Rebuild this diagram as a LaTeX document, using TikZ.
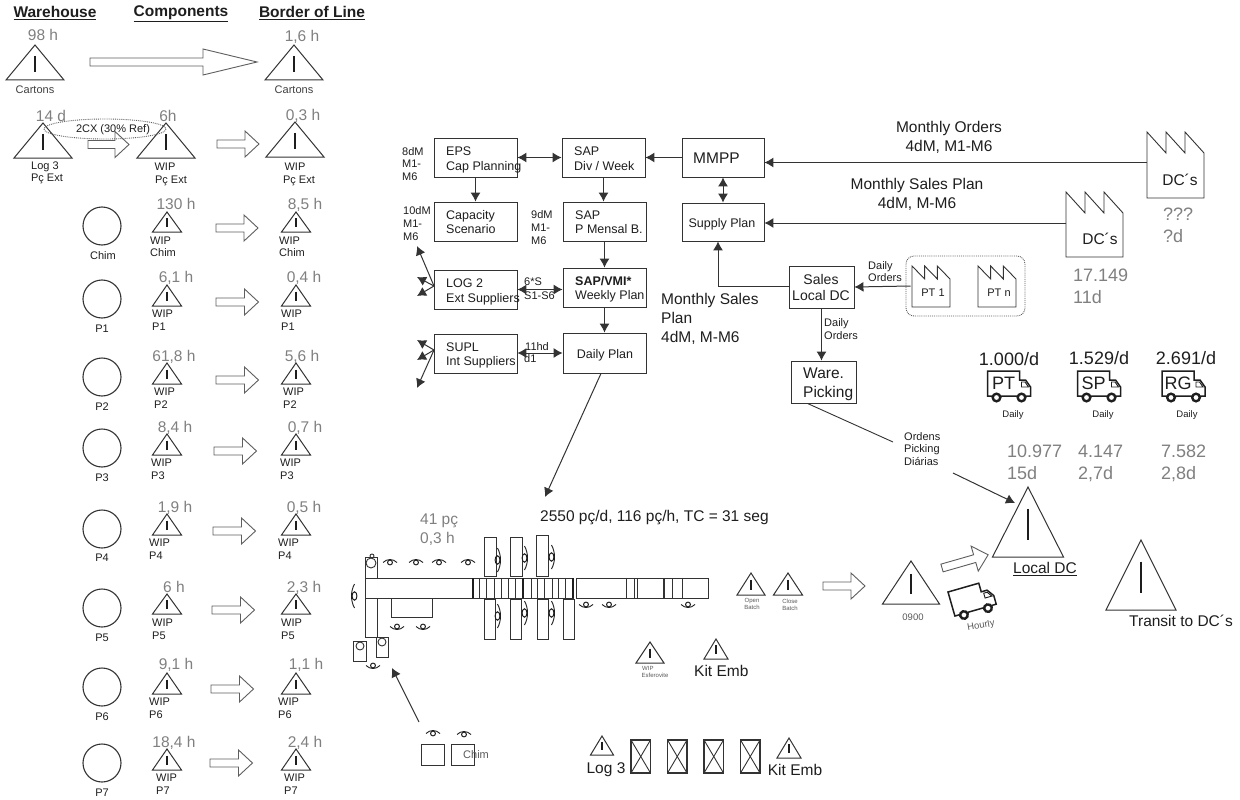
\documentclass[tikz,border=0pt]{standalone}
\usepackage{fontspec}
\setmainfont{Liberation Sans}
\usetikzlibrary{arrows.meta,calc}
\definecolor{txt}{HTML}{1E1E1E}
\definecolor{gtx}{HTML}{808080}
\definecolor{ln}{HTML}{333333}
\definecolor{blk}{HTML}{5E5E5E}
\tikzset{
  line/.style={line width=0.9pt,draw=ln},
  boxn/.style={draw=ln,line width=0.9pt,inner sep=0pt},
  arr/.style={line width=1pt,draw=ln,-{Latex[length=9pt,width=10pt]}},
  dbl/.style={line width=1pt,draw=ln,{Latex[length=9pt,width=10pt]}-{Latex[length=9pt,width=10pt]}},
  blockarr/.style={draw=blk,line width=0.9pt,fill=white},
  trishape/.style={draw=ln,line width=1pt},
  inmark/.style={draw=txt,line width=1.6pt},
  thin line/.style={draw=ln,line width=0.9pt},
}
\newcount\tn
\newcommand{\lab}[6][txt]{\global\advance\tn by 1
  \node[inner sep=0pt,anchor=#2,text=#1,font=\fontsize{#5}{#5}\selectfont,text height={#5*0.72pt},text depth=0pt] (t\the\tn) at (#3,#4) {#6};}
% triangle: name, cx, apex y, base y, half width
\newcommand{\tri}[5]{
  \draw[trishape] ({#2-#5},#4) -- (#2,#3) -- ({#2+#5},#4) -- cycle;
  \draw[inmark,line width={1.3pt+#5*0.025pt}] (#2,{#3+0.31*(#4-#3)}) -- (#2,{#3+0.76*(#4-#3)});
  \coordinate (#1) at (#2,{(#3+#4)/2});}
% block arrow: x1, y, x2, [head length]
\newcommand{\blkarrow}[4][14]{
  \draw[blockarr] (#2,{#3-4}) -- ({#4-#1},{#3-4}) -- ({#4-#1},{#3-13}) -- (#4,#3) -- ({#4-#1},{#3+13}) -- ({#4-#1},{#3+4}) -- (#2,{#3+4}) -- cycle;}
% operator icon
\newcommand{\oper}[4][7]{
  \begin{scope}[shift={(#2,#3)},rotate=#4]
    \draw[draw=txt,line width=0.9pt] ({-#1},1.5) .. controls ({-#1*0.4},-2.5) and ({#1*0.4},-2.5) .. ({#1},1.5);
    \draw[draw=txt,line width=1pt] (0,1.5) ellipse ({#1*0.35} and 2.4);
  \end{scope}}
% truck shape at current scope origin
\newcommand{\truckshape}{
    \draw[draw=txt,line width=1.5pt,fill=white] (0,0) -- (32,0) -- (32,9) -- (38,9) -- (43,16) -- (43,25) -- (0,25) -- cycle;
    \draw[draw=txt,line width=0.9pt] (34,11) -- (37.5,11) -- (41,16) -- (34,16) -- cycle;
    \draw[draw=txt,line width=2.4pt,fill=white] (9,26.5) circle (3.8);
    \draw[draw=txt,line width=2.4pt,fill=white] (34,26.5) circle (3.8);}
\newcommand{\truck}[3]{
  \begin{scope}[shift={(#1,#2)}]
    \truckshape
  \end{scope}
  \lab{center}{#1+16}{#2+12}{18}{#3}}
% factory: name, x1, x2, top, tooth bottom, bottom
\newcommand{\factory}[6]{
  \pgfmathsetmacro{\fw}{(#3-#2)/3}
  \draw[draw=ln,line width=0.9pt] (#2,#6) -- (#2,#4) -- ({#2+\fw},#5) -- ({#2+\fw},#4) -- ({#2+2*\fw},#5) -- ({#2+2*\fw},#4) -- (#3,#5) -- (#3,#6) -- cycle;
  \coordinate (#1) at (#2,{(#5+#6)/2});}
\begin{document}
\begin{tikzpicture}[x=1pt,y=-1pt]
\useasboundingbox (0,0) rectangle (1240,800);
\fill[white] (0,0) rectangle (1240,800);

% ---- headers
\lab{center}{55}{12}{15.5}{\underline{\textbf{Warehouse}}}
\lab{center}{181}{11}{15.5}{\underline{\textbf{Components}}}
\lab{center}{312}{12}{15.5}{\underline{\textbf{Border of Line}}}

% ---- cartons row
\tri{w0}{35}{45}{80}{29}
\tri{b0}{294}{45}{80}{29}
\lab[gtx]{center}{43}{35}{15.5}{98 h}
\lab[gtx]{center}{302}{36}{15.5}{1,6 h}
\lab[gtx!50!black]{center}{35}{90}{11}{Cartons}
\lab[gtx!50!black]{center}{294}{90}{11}{Cartons}
\blkarrow[54]{90}{62}{257}

% ---- pc ext row
\blkarrow{88}{144.5}{129}
\tri{w1}{43}{123}{158}{29}
\tri{c1}{166}{123}{158}{29}
\tri{b1}{295}{122}{157}{29}
\blkarrow{217}{144}{259}
\lab[gtx]{center}{51}{116}{15.5}{14 d}
\lab[gtx]{center}{168}{116}{15.5}{6h}
\lab[gtx]{center}{303}{115}{15.5}{0,3 h}
\lab{center}{45}{166}{11}{Log 3}
\lab{center}{47}{178}{11}{Pç Ext}
\lab{center}{165}{167}{11}{WIP}
\lab{center}{171}{180}{11}{Pç Ext}
\lab{center}{295}{167}{11}{WIP}
\lab{center}{299}{180}{11}{Pç Ext}
\draw[draw=blk,line width=0.9pt,densely dotted] (105,129) ellipse (61 and 10);
\lab{center}{113}{129}{11}{2CX (30\% Ref)}

% ---- Chim row
\draw[draw=ln,line width=1.1pt] (102,226) circle (19);
\lab{center}{103}{256}{11}{Chim}
\tri{cch}{167}{212}{232}{14.5}
\tri{bch}{296}{212}{232}{14.5}
\blkarrow{216}{228}{258}
\lab[gtx]{center}{176}{204}{15.5}{130 h}
\lab[gtx]{center}{305}{204}{15.5}{8,5 h}
\lab{west}{150}{241}{11}{WIP}
\lab{west}{150}{253}{11}{Chim}
\lab{west}{279}{241}{11}{WIP}
\lab{west}{279}{253}{11}{Chim}

% ---- P rows
\foreach \nm/\cy/\ly/\ap/\bs/\ax/\ay/\tc/\tcx/\tcy/\tb/\tbx/\tby/\lc/\lb/\wy/\sy in {
 P1/299/329/285/306/216/302/{6,1 h}/176/277/{0,4 h}/304/277/152/281/314/327,
 P2/377/407/363/384/216/380/{61,8 h}/174/356/{5,6 h}/302/356/154/283/392/405,
 P3/448/478/434/455/214/451/{8,4 h}/175/427/{0,7 h}/305/427/151/280/463/476,
 P4/529/558/514/535/213/531/{1,9 h}/175/507/{0,5 h}/304/507/149/278/543/556,
 P5/608/638/594/614/212/610/{6 h}/174/587/{2,3 h}/304/587/152/281/623/636,
 P6/687/717/673/694/211/689/{9,1 h}/176/664/{1,1 h}/306/664/149/278/702/715,
 P7/763/793/749/770/210/763/{18,4 h}/174/742/{2,4 h}/305/742/156/284/778/791}{
  \draw[draw=ln,line width=1.1pt] (102,\cy) circle (19);
  \lab{center}{102}{\ly}{11}{\nm}
  \tri{c\nm}{167}{\ap}{\bs}{14.5}
  \tri{b\nm}{296}{\ap}{\bs}{14.5}
  \pgfmathsetmacro{\axe}{\ax+42.5}
  \blkarrow{\ax}{\ay}{\axe}
  \lab[gtx]{center}{\tcx}{\tcy}{15.5}{\tc}
  \lab[gtx]{center}{\tbx}{\tby}{15.5}{\tb}
  \lab{west}{\lc}{\wy}{11}{WIP}
  \lab{west}{\lc}{\sy}{11}{\nm}
  \lab{west}{\lb}{\wy}{11}{WIP}
  \lab{west}{\lb}{\sy}{11}{\nm}
}

% ---- planning boxes
\newcommand{\bx}[5]{\node[boxn,minimum width={#4-#2},minimum height={#5-#3}] (#1) at ({(#2+#4)/2},{(#3+#5)/2}) {};}
\bx{eps}{434}{138}{517}{177}
\bx{sapdiv}{562}{138}{645}{177}
\bx{mmpp}{682}{138}{764}{177}
\bx{cap}{434}{202}{517}{241}
\bx{pmensal}{563}{202}{646}{241}
\bx{supply}{682}{203}{764}{241}
\bx{log2}{434}{270}{517}{309}
\bx{vmi}{563}{268}{646}{307}
\bx{supl}{434}{334}{517}{373}
\bx{daily}{563}{333}{646}{373}
\bx{sales}{789}{266}{854}{308}
\bx{ware}{791}{361}{856}{403}

\lab{west}{446}{151}{12.5}{EPS}
\lab{west}{446}{166}{12.5}{Cap Planning}
\lab{west}{574}{151}{12.5}{SAP}
\lab{west}{574}{166}{12.5}{Div / Week}
\lab{west}{693}{158}{15.5}{MMPP}
\lab{west}{446}{215}{12.5}{Capacity}
\lab{west}{446}{229}{12.5}{Scenario}
\lab{west}{575}{215}{12.5}{SAP}
\lab{west}{575}{229}{12.5}{P Mensal B.}
\lab{center}{722}{223}{12.5}{Supply Plan}
\lab{west}{446}{283}{12.5}{LOG 2}
\lab{west}{446}{298}{12.5}{Ext Suppliers}
\lab{west}{575}{281}{12.5}{\textbf{SAP/VMI*}}
\lab{west}{575}{295}{12.5}{Weekly Plan}
\lab{west}{446}{347}{12.5}{SUPL}
\lab{west}{446}{361}{12.5}{Int Suppliers}
\lab{center}{605}{354}{12.5}{Daily Plan}
\lab{center}{821}{279}{14}{Sales}
\lab{center}{821}{295}{14}{Local DC}
\lab{west}{803}{373}{15.5}{Ware.}
\lab{west}{803}{392}{15.5}{Picking}

\foreach \a/\b/\c in {402/152/8dM,402/164/M1-,402/177/M6,403/211/10dM,403/224/M1-,403/237/M6,531/215/9dM,531/228/M1-,531/241/M6,
   524/282/6*S,524/296/S1-S6,525/347/11hd,524/359/d1}{\lab{west}{\a}{\b}{11}{\c}}

\draw[dbl] (eps.east) -- (sapdiv.west);
\draw[arr] (mmpp.west) -- (sapdiv.east);
\draw[arr] (eps.south) -- (cap.north);
\draw[arr] (sapdiv.south) -- (sapdiv.south |- pmensal.north);
\draw[arr] (pmensal.south) -- (vmi.north);
\draw[arr] (vmi.south) -- (daily.north);
\draw[dbl] (log2.east) -- (log2.east -| vmi.west);
\draw[dbl] (supl.east) ++(0,-0.5) -- (daily.west);
\draw[dbl] (mmpp.south) -- (supply.north);

% whiskers
\coordinate (lg) at (434,286);
\coordinate (sg) at (434,350);
\coordinate (lg1) at (417,246); \coordinate (lg2) at (417,277); \coordinate (lg3) at (417,296);
\coordinate (sg1) at (417,340); \coordinate (sg2) at (417,360); \coordinate (sg3) at (417,388);
\foreach \e in {lg1,lg2,lg3}{\draw[arr] (lg) -- (\e);}
\foreach \e in {sg1,sg2,sg3}{\draw[arr] (sg) -- (\e);}

% ---- factories
\factory{dca}{1147}{1204}{132}{153}{198}
\factory{dcb}{1066}{1123}{192}{213}{257}
\factory{pta}{912}{950}{266}{279}{307}
\factory{ptb}{978}{1016}{266}{279}{307}
\coordinate (dcaw) at (1147,162.5);
\coordinate (dcbw) at (1066,223);
\lab{center}{1180}{180}{15.5}{DC´s}
\lab{center}{1100}{239}{15.5}{DC´s}
\lab{center}{933}{293}{11}{PT 1}
\lab{center}{999}{293}{11}{PT n}
\node[draw=blk,line width=0.9pt,densely dotted,rounded corners=8pt,minimum width=119pt,minimum height=60pt,inner sep=0pt] (ptgroup) at (965.5,286) {};
\lab[gtx]{west}{1163}{214}{18}{???}
\lab[gtx]{west}{1163}{236}{18}{?d}
\lab[gtx]{west}{1073}{275}{18}{17.149}
\lab[gtx]{west}{1073}{297}{18}{11d}

\draw[arr] (dcaw) -- (dcaw -| mmpp.east);
\draw[arr] (dcbw) -- (dcbw -| supply.east);
\coordinate (slsin) at (718,286);
\draw[line] (sales.west) ++(0,-1) -- (slsin);
\draw[arr] (slsin) -- (slsin |- supply.south);
\draw[arr] (ptgroup.west) ++(5,0) -- (sales.east);
\draw[arr] (sales.south) -- (sales.south |- ware.north);

\lab{center}{949}{127}{15.5}{Monthly Orders}
\lab{center}{949}{146}{15.5}{4dM, M1-M6}
\lab{center}{917}{184}{15.5}{Monthly Sales Plan}
\lab{center}{917}{203}{15.5}{4dM, M-M6}
\lab{west}{661}{299}{15.5}{Monthly Sales}
\lab{west}{661}{318}{15.5}{Plan}
\lab{west}{661}{337}{15.5}{4dM, M-M6}
\lab{west}{868}{266}{11}{Daily}
\lab{west}{868}{278}{11}{Orders}
\lab{west}{824}{323}{11}{Daily}
\lab{west}{824}{336}{11}{Orders}
\lab{west}{904}{437}{11}{Ordens}
\lab{west}{904}{449}{11}{Picking}
\lab{west}{904}{462}{11}{Diárias}

% ---- trucks
\truck{987.5}{371}{PT}
\truck{1077.5}{371}{SP}
\truck{1162}{371}{RG}
\lab{center}{1009}{359}{18}{1.000/d}
\lab{center}{1099}{358}{18}{1.529/d}
\lab{center}{1186}{358}{18}{2.691/d}
\lab{center}{1013}{414}{9.5}{Daily}
\lab{center}{1103}{414}{9.5}{Daily}
\lab{center}{1187}{414}{9.5}{Daily}
\lab[gtx]{west}{1007}{451}{18}{10.977}
\lab[gtx]{west}{1007}{473}{18}{15d}
\lab[gtx]{west}{1078}{451}{18}{4.147}
\lab[gtx]{west}{1078}{473}{18}{2,7d}
\lab[gtx]{west}{1161}{451}{18}{7.582}
\lab[gtx]{west}{1161}{473}{18}{2,8d}

% ---- right triangles
\tri{localdc}{1028}{487}{557}{35.5}
\lab{center}{1045}{568}{15.5}{\underline{Local DC}}
\tri{transit}{1141}{540}{610}{35}
\lab{center}{1181}{621}{15.5}{Transit to DC´s}
\tri{t0900}{911}{561}{604}{28.5}
\lab[gtx!70!black]{center}{913}{617}{9.5}{0900}
\tri{topen}{751}{573}{595}{14}
\tri{tclose}{788}{573}{595}{14.5}
\lab[gtx!70!black]{center}{752}{600}{6}{Open}
\lab[gtx!70!black]{center}{752}{607}{6}{Batch}
\lab[gtx!70!black]{center}{790}{601}{6}{Close}
\lab[gtx!70!black]{center}{790}{608}{6}{Batch}
\blkarrow{823}{586}{865}
\begin{scope}[shift={(942,568)},rotate=16]
  \blkarrow{0}{0}{48}
\end{scope}
\begin{scope}[shift={(948,592)},rotate=16]
  \truckshape
\end{scope}
\node[inner sep=0pt,rotate=10,text=gtx!70!black,font=\fontsize{9.5}{9.5}\selectfont] (hourly) at (981,626) {Hourly};

% ---- connectors to/from
\coordinate (opa) at (893,442);
\coordinate (opb) at (953,473);
\coordinate (ldctip) at (1015,503);
\draw[line] (ware.south) ++(-16,0) -- (opa);
\draw[arr] (opb) -- (ldctip);
\coordinate (prodtip) at (545,497);
\draw[arr] (daily.south) ++(-3.5,0) -- (prodtip);
\coordinate (chimfrom) at (419,722);
\coordinate (chimtip) at (392,668);
\draw[arr] (chimfrom) -- (chimtip);

% ---- text line
\lab{west}{540}{516}{15.5}{2550 pç/d, 116 pç/h, TC = 31 seg}
\lab[gtx]{west}{420}{519}{15.5}{41 pç}
\lab[gtx]{west}{420}{538}{15.5}{0,3 h}

% ---- production line
\draw[thin line] (365,578) rectangle (473,598);
\draw[thin line] (473,578) rectangle (573,598);
\draw[thin line] (576,578) rectangle (708,598);
\foreach \v in {479,486,494,501,508,515,531,537,544,552,558,565}{\draw[thin line] (\v,578) -- (\v,598);}
\foreach \v in {473,523,573}{\draw[draw=txt,line width=1.4pt] (\v,578) -- (\v,598);}
\foreach \v in {634,637.5,672.5,682}{\draw[thin line] (\v,578) -- (\v,598);}
\foreach \v in {626.5,664}{\draw[draw=ln,line width=1.4pt] (\v,578) -- (\v,598);}
\foreach \x/\yo in {484/537,510/537,536/535}{\draw[thin line] (\x,\yo) rectangle ({\x+12},576);}
\foreach \x in {484,510,537,563}{\draw[thin line] (\x,599) rectangle ({\x+11.5},639);}
\draw[thin line] (365,578) -- (365,557) -- (377,557) -- (377,578);
\draw[thin line] (371,563) circle (5);
\draw[thin line] (372,556) circle (2);
\draw[thin line] (365,598) -- (365,637) -- (388,637) -- (388,657) -- (376,657) -- (376,637);
\draw[thin line] (377,598) -- (377,637);
\draw[thin line] (382,642) circle (4);
\draw[thin line] (353,641) rectangle (366,661);
\draw[thin line] (360,646) circle (4);
\draw[thin line] (391,598) -- (391,617) -- (432,617) -- (432,598);
\foreach \x/\y in {390/561,416/561,439/561,468/561,433/732,464/733}{\oper{\x}{\y}{0}}
\foreach \x/\y in {397/628,423/628,373/667,586/606,609/606,688/606}{\oper{\x}{\y}{180}}
\oper[12]{353}{596}{90}
\foreach \x/\y in {499/560,526/558,553/557,499/616,526/613,553/613}{\oper[12]{\x}{\y}{-90}}

\tri{wipesf}{650}{642}{663}{14}
\lab[gtx!70!black]{west}{642}{668}{6}{WIP}
\lab[gtx!70!black]{west}{641.5}{675}{6}{Esferovite}
\tri{kita}{716}{639}{659}{12}
\lab{west}{694}{671}{15.5}{Kit Emb}

% ---- bottom row
\node[boxn,minimum width=23pt,minimum height=21pt] (cha) at (432.5,754.5) {};
\node[boxn,minimum width=23pt,minimum height=21pt] (chb) at (463,754.5) {};
\lab[gtx!70!black]{west}{463}{755}{11}{Chim}
\tri{tlog}{602}{736}{755}{11.5}
\lab{center}{606}{768}{15.5}{Log 3}
\tri{tkit}{789}{738}{758}{12}
\lab{center}{795}{770}{15.5}{Kit Emb}
\foreach \x in {631,667.5,704,740.5}{
  \draw[thin line,line width=1.1pt] (\x,740) rectangle ({\x+19.5},773);
  \draw[thin line] (\x,740) -- ({\x+19.5},773);
  \draw[thin line] ({\x+19.5},740) -- (\x,773);
}
\end{tikzpicture}
\end{document}
